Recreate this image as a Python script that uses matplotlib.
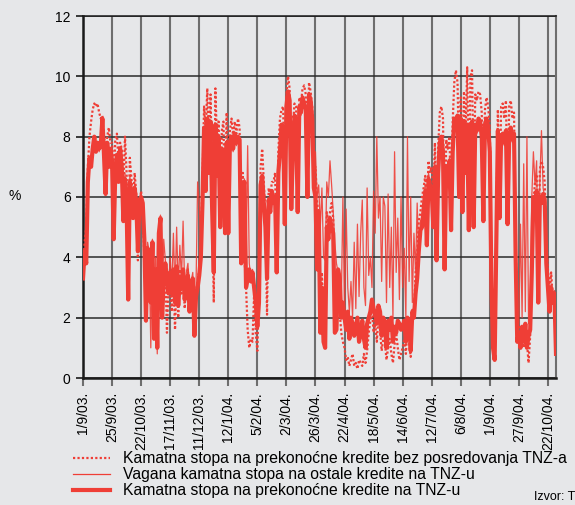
import numpy as np
import matplotlib.pyplot as plt
from matplotlib.lines import Line2D

plt.rcParams['font.family'] = ['Liberation Sans', 'DejaVu Sans']

# dnevne vrijednosti (radni dani od 1/9/03.)
prekonocne_bez = [
    3.5, 4.5, 5.0, 7.0, 8.0, 8.5, 8.9, 9.1, 9.0, 9.1, 8.8, 8.6, 8.7, 8.0, 7.5, 8.0, 8.3, 7.8,
    7.8, 6.5, 7.9, 8.1, 7.2, 7.8, 7.6, 6.2, 8.0, 6.8, 4.5, 7.3, 6.6, 6.0, 6.8, 6.1, 3.9, 5.8,
    6.2, 5.5, 4.0, 2.5, 3.9, 3.2, 2.8, 3.0, 1.5, 1.3, 1.2, 4.0, 4.8, 2.5, 3.0, 3.5, 1.5, 3.0,
    3.2, 2.2, 3.3, 1.6, 3.5, 2.0, 3.6, 2.8, 3.4, 2.3, 3.2, 3.6, 2.5, 2.9, 3.0, 1.4, 2.9, 3.2,
    3.6, 4.5, 6.5, 9.0, 8.2, 9.6, 7.5, 9.4, 6.5, 2.5, 9.6, 7.8, 8.5, 6.0, 8.2, 8.5, 5.5, 8.8,
    5.3, 8.2, 8.6, 8.0, 8.5, 8.1, 8.6, 8.3, 4.5, 6.8, 4.0, 3.0, 1.6, 1.0, 1.3, 1.2, 2.8, 1.5,
    0.9, 3.0, 7.0, 7.6, 6.5, 5.2, 2.1, 6.3, 6.0, 6.5, 6.5, 6.8, 4.0, 7.5, 8.6, 8.9, 9.0, 5.5,
    9.4, 10.0, 9.6, 6.5, 8.3, 9.1, 9.0, 6.0, 9.3, 9.1, 9.6, 9.7, 9.4, 6.5, 9.8, 9.5, 9.0, 6.8,
    7.0, 5.8, 5.5, 2.0, 3.5, 1.5, 1.2, 5.5, 5.0, 5.5, 5.8, 5.3, 1.8, 2.0, 3.0, 2.2, 1.5, 1.2,
    1.0, 0.6, 0.7, 0.4, 0.6, 0.8, 0.4, 0.5, 0.3, 0.6, 0.5, 0.4, 0.8, 0.5, 0.9, 1.5, 1.9, 2.3,
    1.5, 1.8, 1.2, 2.0, 1.6, 0.9, 1.3, 1.2, 0.6, 1.0, 1.3, 0.8, 0.5, 1.1, 1.5, 1.0, 0.6, 0.8,
    1.0, 1.3, 0.8, 1.7, 1.2, 0.7, 2.3, 2.0, 3.5, 4.0, 5.2, 5.5, 6.0, 6.3, 6.7, 5.5, 7.2, 6.8,
    7.0, 6.0, 7.8, 4.6, 7.6, 8.8, 9.0, 8.6, 4.3, 7.9, 7.6, 8.0, 5.7, 8.5, 9.8, 10.2, 9.8, 7.0,
    9.3, 6.5, 9.5, 8.0, 10.3, 6.0, 10.0, 10.2, 6.2, 9.4, 9.2, 9.5, 9.4, 8.8, 6.0, 8.9, 9.3, 9.0,
    8.3, 3.5, 1.2, 0.8, 5.0, 8.9, 5.5, 9.0, 9.1, 8.6, 9.2, 5.6, 9.0, 9.2, 8.6, 8.8, 4.5, 1.5,
    1.7, 1.3, 1.5, 1.0, 1.5, 1.2, 0.5, 1.4, 4.0, 5.8, 6.5, 6.7, 3.0, 6.9, 7.2, 7.0, 6.5, 4.5,
    3.6, 2.8, 3.5, 2.6, 2.9, 1.0,
]

vagana_ostale = [
    3.5, 4.0, 4.5, 6.8, 7.2, 7.1, 7.5, 7.8, 7.6, 7.7, 7.5, 7.8, 8.3, 7.3, 6.5, 7.6, 7.2, 7.5,
    7.3, 5.0, 7.0, 7.3, 6.6, 7.5, 7.1, 5.5, 6.8, 6.0, 3.0, 6.7, 6.2, 5.4, 6.5, 5.9, 4.5, 6.0,
    6.1, 5.7, 4.8, 2.2, 4.5, 4.2, 1.0, 4.6, 1.5, 4.0, 0.8, 5.0, 5.4, 2.3, 4.6, 3.9, 3.5, 3.0,
    4.0, 3.0, 4.8, 2.8, 5.0, 3.0, 4.4, 3.3, 5.2, 3.0, 3.5, 3.8, 2.8, 3.2, 3.5, 2.0, 3.0, 6.5,
    5.8, 4.2, 6.0, 8.0, 6.5, 8.4, 7.0, 8.3, 6.0, 4.0, 8.1, 6.9, 7.8, 5.4, 7.4, 7.5, 5.0, 7.7,
    5.0, 7.8, 7.9, 7.5, 8.0, 7.7, 8.0, 7.8, 4.2, 6.3, 6.6, 4.0, 7.7, 3.8, 3.3, 3.6, 3.2, 2.6,
    1.8, 2.7, 6.3, 6.6, 5.9, 5.2, 3.5, 5.8, 5.7, 6.1, 5.9, 6.1, 3.8, 6.9, 7.6, 8.3, 8.2, 5.3,
    9.0, 9.4, 9.1, 5.8, 7.6, 8.6, 8.4, 5.7, 8.9, 8.7, 9.2, 9.0, 8.8, 6.2, 9.3, 9.1, 8.5, 6.4,
    7.5, 6.0, 6.4, 5.0, 6.3, 4.0, 3.9, 6.5, 6.0, 7.2, 6.4, 5.5, 4.5, 3.8, 3.5, 3.0, 2.5, 6.0,
    2.2, 5.6, 3.0, 2.2, 3.2, 2.0, 4.5, 2.3, 5.1, 2.7, 4.8, 5.9, 3.0, 2.4, 6.3, 3.4, 4.0, 3.0,
    6.2, 4.8, 8.0, 5.3, 6.0, 3.2, 6.0, 5.7, 2.5, 6.1, 3.0, 5.0, 2.0, 7.5, 3.5, 5.3, 2.6, 6.0,
    3.0, 4.3, 2.0, 8.0, 3.2, 6.0, 2.5, 4.8, 3.5, 5.8, 4.0, 5.2, 5.3, 5.8, 6.4, 4.6, 6.8, 6.5,
    6.4, 5.2, 7.1, 4.2, 6.9, 7.7, 7.9, 7.4, 4.0, 7.0, 6.8, 7.3, 5.2, 7.6, 8.5, 8.3, 8.6, 6.2,
    8.5, 5.7, 8.4, 6.9, 8.3, 5.1, 8.2, 8.4, 5.2, 8.3, 8.1, 8.5, 8.4, 7.9, 5.4, 8.3, 8.5, 8.2,
    7.6, 3.3, 1.2, 0.8, 4.8, 8.0, 5.5, 7.9, 8.0, 7.7, 8.1, 5.3, 7.9, 8.2, 7.8, 8.0, 4.3, 1.5,
    1.8, 5.1, 2.0, 7.1, 2.2, 8.0, 1.8, 2.5, 6.0, 7.5, 6.4, 7.2, 2.8, 6.5, 8.2, 6.3, 6.0, 4.0,
    3.2, 2.4, 3.1, 2.7, 2.9, 1.0,
]

prekonocne_tnz = [
    3.3, 4.2, 3.8, 6.5, 7.3, 7.0, 7.6, 8.0, 7.5, 7.8, 7.6, 7.7, 8.6, 7.4, 6.1, 7.8, 7.0, 7.6,
    7.2, 4.6, 6.8, 7.4, 6.5, 7.6, 7.0, 5.2, 6.6, 5.8, 2.6, 6.5, 6.0, 5.3, 6.3, 5.8, 4.2, 5.9,
    6.0, 5.8, 4.6, 1.9, 4.3, 4.0, 2.5, 4.5, 1.3, 3.6, 1.0, 4.8, 5.3, 2.0, 3.2, 3.8, 3.3, 2.8,
    3.5, 2.8, 3.6, 2.5, 3.7, 2.4, 3.3, 3.0, 3.6, 2.6, 3.2, 3.4, 2.2, 3.0, 3.3, 1.4, 2.7, 3.0,
    3.4, 4.0, 5.8, 8.3, 6.2, 8.6, 6.8, 8.5, 5.6, 3.5, 8.4, 6.7, 8.0, 5.0, 7.6, 7.3, 4.8, 7.8,
    4.8, 7.8, 8.0, 7.6, 8.1, 7.8, 8.0, 7.9, 3.8, 6.2, 6.5, 3.0, 3.3, 3.6, 3.2, 3.5, 3.0, 2.5,
    1.7, 2.5, 6.4, 6.7, 5.8, 5.0, 3.3, 5.9, 5.5, 6.2, 5.8, 6.0, 3.5, 6.8, 7.5, 8.4, 8.3, 5.1,
    9.0, 9.5, 9.2, 5.6, 7.5, 8.7, 8.5, 5.5, 9.0, 8.8, 9.3, 9.1, 8.9, 6.0, 9.4, 9.2, 8.6, 6.3,
    6.0, 3.6, 5.5, 1.5, 3.0, 1.2, 1.0, 5.0, 4.6, 5.3, 5.0, 4.8, 1.5, 1.6, 3.6, 3.3, 2.0, 2.5,
    2.0, 1.6, 2.2, 1.3, 2.0, 1.8, 1.4, 1.7, 2.0, 1.2, 1.5, 1.9, 1.3, 1.0, 1.8, 2.0, 2.2, 2.6,
    2.3, 2.1, 1.8, 2.4, 2.2, 1.4, 2.0, 1.8, 1.0, 1.9, 1.6, 2.0, 1.2, 1.7, 1.5, 1.9, 1.8, 1.6,
    1.7, 1.9, 1.2, 2.0, 1.9, 0.9, 2.2, 2.0, 2.8, 3.3, 4.2, 4.9, 5.0, 5.6, 6.2, 4.4, 6.6, 6.3,
    6.2, 5.0, 7.0, 3.9, 6.8, 7.8, 8.0, 7.5, 3.6, 7.0, 6.7, 7.2, 4.9, 7.5, 8.6, 8.4, 8.7, 6.0,
    8.6, 5.5, 8.5, 6.8, 8.4, 4.9, 8.3, 8.5, 5.0, 8.4, 8.2, 8.6, 8.5, 8.0, 5.2, 8.4, 8.6, 8.3,
    7.5, 3.0, 1.0, 0.6, 4.5, 8.2, 5.3, 8.0, 8.1, 7.8, 8.2, 5.1, 8.0, 8.3, 7.9, 8.1, 4.0, 1.2,
    1.5, 1.0, 1.7, 1.2, 1.8, 1.0, 1.4, 1.6, 3.5, 6.0, 5.9, 6.2, 2.5, 6.0, 5.8, 6.1, 5.9, 3.8,
    3.0, 2.2, 3.0, 2.5, 2.8, 0.8,
]

tick_labels = ['1/9/03.', '25/9/03.', '22/10/03.', '17/11/03.', '11/12/03.', '12/1/04.',
               '5/2/04.', '2/3/04.', '26/3/04.', '22/4/04.', '18/5/04.', '14/6/04.',
               '12/7/04.', '6/8/04.', '1/9/04.', '27/9/04.', '22/10/04.']

legend_labels = ['Kamatna stopa na prekonoćne kredite bez posredovanja TNZ-a',
                 'Vagana kamatna stopa na ostale kredite na TNZ-u',
                 'Kamatna stopa na prekonoćne kredite na TNZ-u']

#%%
bg = '#e6e7e9'
red = '#ef3e36'

x = np.arange(len(prekonocne_tnz))

fig = plt.figure(figsize=(5.75, 5.05), dpi=100, facecolor=bg)
ax = fig.add_axes([83/575, 1-378/505, (556-83)/575, (378-16)/505])
ax.set_facecolor(bg)

ax.plot(x, prekonocne_bez, color=red, lw=1.6, linestyle=(0, (1, 1)), dash_capstyle='butt', zorder=3)
ax.plot(x, vagana_ostale, color=red, lw=0.9, alpha=0.9, zorder=4)
ax.plot(x, prekonocne_tnz, color=red, lw=3.0, zorder=5)

ax.set_xlim(0, 293)
ax.set_ylim(0, 12)
ax.set_xticks(np.arange(0, 18*len(tick_labels), 18))
ax.set_xticklabels(tick_labels, rotation=90, fontsize=10)
ax.set_yticks(np.arange(0, 13, 2))
ax.set_yticklabels([str(v) for v in range(0, 13, 2)], fontsize=10)

ax.set_axisbelow(True)
ax.xaxis.grid(True, color='#6e6e6e', lw=1.5)
ax.yaxis.grid(True, color='#2a2a2a', lw=1.1)
ax.tick_params(axis='x', length=6, width=1.5, color='#6e6e6e', pad=4)
ax.tick_params(axis='y', length=5, width=1.2, color='#1a1a1a', pad=4)

for side in ['left', 'bottom', 'top']:
    ax.spines[side].set_color('#1a1a1a')
ax.spines['left'].set_linewidth(1.8)
ax.spines['bottom'].set_linewidth(1.8)
ax.spines['top'].set_linewidth(1.1)
ax.spines['right'].set_color('#6e6e6e')
ax.spines['right'].set_linewidth(1.5)

fig.text(15/575, 1-196/505, '%', fontsize=10, ha='center', va='center')

# legenda
styles = [dict(lw=1.6, linestyle=(0, (1, 1))), dict(lw=0.9), dict(lw=3.0)]
for i, (lab, st) in enumerate(zip(legend_labels, styles)):
    yy = 1 - (458 + 16*i)/505
    fig.add_artist(Line2D([73/575, 110/575], [yy, yy], color=red, **st))
    fig.text(123/575, yy, lab, fontsize=11.3, va='center', ha='left')

fig.text(575/575, 1-497/505, 'Izvor: T', fontsize=9, va='center', ha='right')

fig.savefig('out.png', dpi=100, facecolor=bg)
